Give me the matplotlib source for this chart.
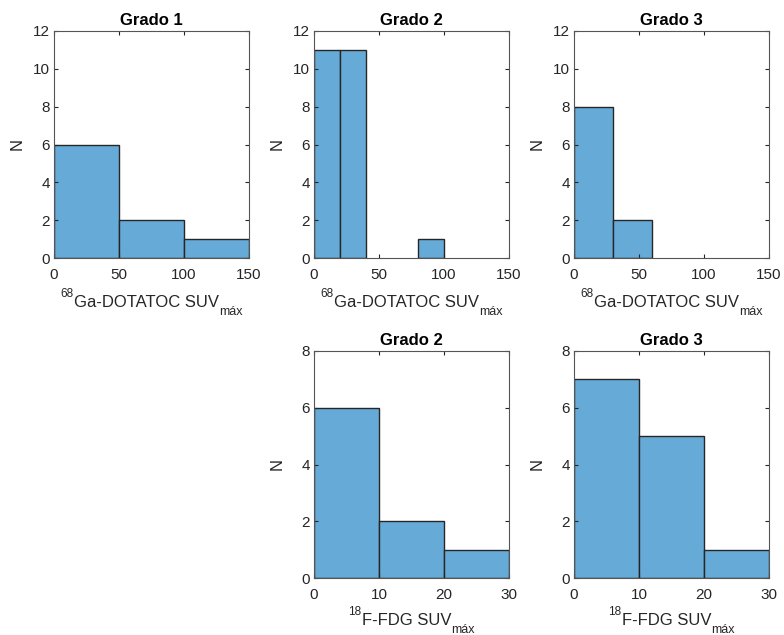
import numpy as np
import matplotlib
matplotlib.use("Agg")
import matplotlib.pyplot as plt

plt.rcParams['font.family'] = ['Liberation Sans', 'DejaVu Sans']

# histogram bin edges and counts per grade
ga_g1_edges = [0, 50, 100, 150]
ga_g1_counts = [6, 2, 1]
ga_g2_edges = [0, 20, 40, 60, 80, 100]
ga_g2_counts = [11, 11, 0, 0, 1]
ga_g3_edges = [0, 30, 60]
ga_g3_counts = [8, 2]
fdg_g2_edges = [0, 10, 20, 30]
fdg_g2_counts = [6, 2, 1]
fdg_g3_edges = [0, 10, 20, 30]
fdg_g3_counts = [7, 5, 1]

titles_top = ['Grado 1', 'Grado 2', 'Grado 3']
titles_bottom = ['Grado 2', 'Grado 3']
# (superscript, main text, subscript)
ga_label = ('68', 'Ga-DOTATOC SUV', 'máx')
fdg_label = ('18', 'F-FDG SUV', 'máx')

face = (0.4, 0.668, 0.845)
edge = '#262626'
axcol = '#262626'

W, H = 784, 635
fig = plt.figure(figsize=(W / 100, H / 100), dpi=100)
renderer = fig.canvas.get_renderer()


def px_axes(x0, x1, y0, y1):
    return fig.add_axes([x0 / W, 1 - y1 / H, (x1 - x0) / W, (y1 - y0) / H])


def put(x, y, s, size):
    # x, y in pixels, y measured from the top, text anchored on its baseline
    return fig.text(x / W, 1 - y / H, s, fontsize=size, color=axcol,
                    ha='left', va='baseline')


def iso_label(xc, base, parts):
    sup, main, sub = parts
    pieces = [(sup, 8.5, -10), (main, 12, 0), (sub, 9, 8)]
    texts = [put(0, 0, s, fs) for s, fs, _ in pieces]
    widths = [t.get_window_extent(renderer).width for t in texts]
    x = xc - sum(widths) / 2
    for t, w, (_, _, dy) in zip(texts, widths, pieces):
        t.set_position((x / W, 1 - (base + dy) / H))
        x += w


def draw_hist(ax, edges, counts, xlim, xticks, ylim, yticks, title):
    edges = np.array(edges)
    counts = np.array(counts)
    keep = counts > 0
    ax.bar(edges[:-1][keep], counts[keep], width=np.diff(edges)[keep],
           align='edge', color=face, edgecolor=edge, linewidth=1.0)
    ax.set_xlim(*xlim)
    ax.set_ylim(*ylim)
    ax.set_xticks(xticks)
    ax.set_yticks(yticks)
    ax.tick_params(direction='in', top=True, right=True, length=3,
                   labelsize=11, colors=axcol, labelcolor=axcol)
    ax.tick_params(axis='x', pad=7)
    ax.tick_params(axis='y', pad=3)
    for s in ax.spines.values():
        s.set_color('#555555')
        s.set_linewidth(0.8)
    ax.set_title(title, fontsize=12, fontweight='bold', pad=4)
    ax.set_ylabel('N', fontsize=12, color=axcol)
    ax.yaxis.set_label_coords(-0.15, 0.5)


lefts = [(54, 249), (314, 509), (574, 769)]
top_data = [(ga_g1_edges, ga_g1_counts),
            (ga_g2_edges, ga_g2_counts),
            (ga_g3_edges, ga_g3_counts)]
for (x0, x1), (e, c), t in zip(lefts, top_data, titles_top):
    ax = px_axes(x0, x1, 31, 258)
    draw_hist(ax, e, c, (0, 150), [0, 50, 100, 150], (0, 12),
              [0, 2, 4, 6, 8, 10, 12], t)
    iso_label((x0 + x1) / 2, 307, ga_label)

bottom_data = [(fdg_g2_edges, fdg_g2_counts), (fdg_g3_edges, fdg_g3_counts)]
for (x0, x1), (e, c), t in zip(lefts[1:], bottom_data, titles_bottom):
    ax = px_axes(x0, x1, 351, 578)
    draw_hist(ax, e, c, (0, 30), [0, 10, 20, 30], (0, 8),
              [0, 2, 4, 6, 8], t)
    iso_label((x0 + x1) / 2, 625, fdg_label)

fig.savefig('out.png', dpi=100)
